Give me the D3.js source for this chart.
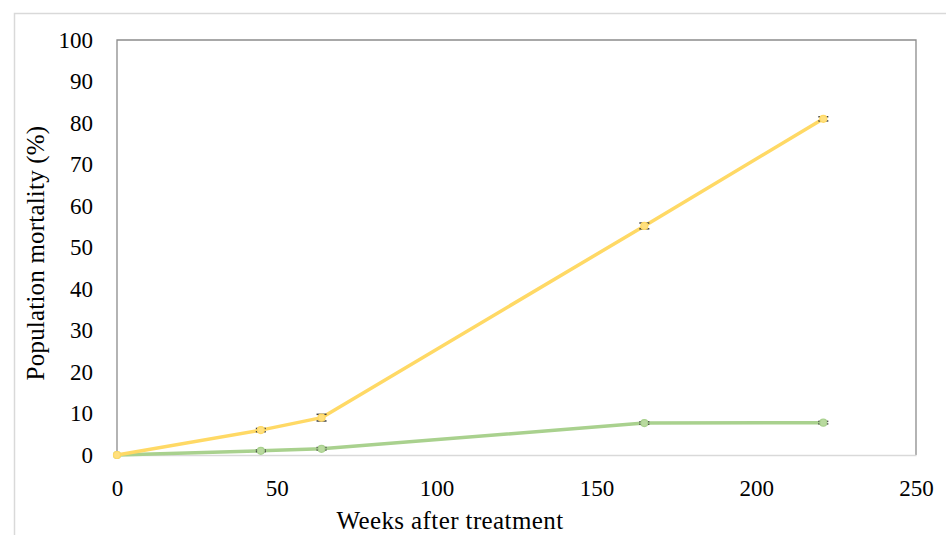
<!DOCTYPE html>
<html lang="en">
<head>
<meta charset="UTF-8">
<script src="https://d3js.org/d3.v7.min.js"></script>
<style>
  body { margin: 0; background: #fff; }
  text { font-family: "Liberation Serif", "DejaVu Serif", serif; fill: #000; }
</style>
</head>
<body>
<div id="chart"></div>
<script>
// data
const weeks = [0, 45, 64, 165, 221];
const yellowVals = [0, 6, 9, 55.2, 81];
const yellowErr = [0, 0.4, 0.8, 0.7, 0.5];
const greenVals = [0, 1, 1.5, 7.7, 7.8];
const greenErr = [0, 0.2, 0.3, 0.3, 0.3];
const xTicks = [0, 50, 100, 150, 200, 250];
const yTicks = [0, 10, 20, 30, 40, 50, 60, 70, 80, 90, 100];

const width = 946, height = 535;
const padL = 117, padR = 916, padT = 40, padB = 455;
const serif = '"Liberation Serif", "DejaVu Serif", serif';

const x = d3.scaleLinear().domain([0, 250]).range([padL, padR]);
const y = d3.scaleLinear().domain([0, 100]).range([padB, padT]);

const svg = d3.select('#chart').append('svg')
  .attr('width', width).attr('height', height);

// outer frame
svg.append('path')
  .attr('d', `M14.5,${height} V13.5 H${width}`)
  .attr('fill', 'none').attr('stroke', '#d9d9d9').attr('stroke-width', 1.5);

// plot frame (top, left, right)
svg.append('path')
  .attr('d', `M${padL},${padB} V${padT} H${padR} V${padB}`)
  .attr('fill', 'none').attr('stroke', '#8c8c8c').attr('stroke-width', 1.3);

// x axis
const xAxis = svg.append('g')
  .attr('transform', `translate(0,${padB})`)
  .call(d3.axisBottom(x).tickValues(xTicks).tickSize(0).tickPadding(25));
xAxis.attr('font-family', serif).attr('font-size', 23);
xAxis.select('.domain').attr('stroke', '#d9d9d9').attr('stroke-width', 1.5);
xAxis.selectAll('text').attr('fill', '#000');

// y axis
const yAxis = svg.append('g')
  .attr('transform', `translate(${padL},0)`)
  .call(d3.axisLeft(y).tickValues(yTicks).tickSize(0).tickPadding(24));
yAxis.attr('font-family', serif).attr('font-size', 23);
yAxis.select('.domain').remove();
yAxis.selectAll('text').attr('fill', '#000');

// axis titles
svg.append('text')
  .attr('x', 450).attr('y', 529)
  .attr('text-anchor', 'middle').style('font-size', '25px')
  .style('letter-spacing', '0.4px')
  .text('Weeks after treatment');
svg.append('text')
  .attr('transform', `translate(44,253) rotate(-90)`)
  .attr('text-anchor', 'middle').style('font-size', '25px')
  .style('letter-spacing', '0.2px')
  .text('Population mortality (%)');

const line = d3.line().x(d => x(d[0])).y(d => y(d[1]));

function drawSeries(vals, errs, color, fill) {
  const pts = weeks.map((w, i) => [w, vals[i], errs[i]]);
  svg.append('path').datum(pts)
    .attr('d', line).attr('fill', 'none')
    .attr('stroke', color).attr('stroke-width', 3.5)
    .attr('stroke-linejoin', 'round');
  const g = svg.append('g');
  pts.filter(p => p[2] > 0).forEach(p => {
    const cx = x(p[0]);
    const y1 = y(p[1] + p[2]), y2 = y(p[1] - p[2]);
    g.append('line').attr('x1', cx).attr('x2', cx).attr('y1', y1).attr('y2', y2)
      .attr('stroke', '#404040').attr('stroke-width', 1.2);
    [y1, y2].forEach(yy => g.append('line')
      .attr('x1', cx - 5).attr('x2', cx + 5).attr('y1', yy).attr('y2', yy)
      .attr('stroke', '#404040').attr('stroke-width', 1.5));
  });
  svg.append('g').selectAll('circle').data(pts).enter().append('circle')
    .attr('cx', d => x(d[0])).attr('cy', d => y(d[1])).attr('r', 3.5)
    .attr('fill', fill).attr('stroke', color).attr('stroke-width', 1.2);
}

drawSeries(greenVals, greenErr, '#a9d18e', '#b9da9f');
drawSeries(yellowVals, yellowErr, '#ffd965', '#ffe07f');
</script>
</body>
</html>
